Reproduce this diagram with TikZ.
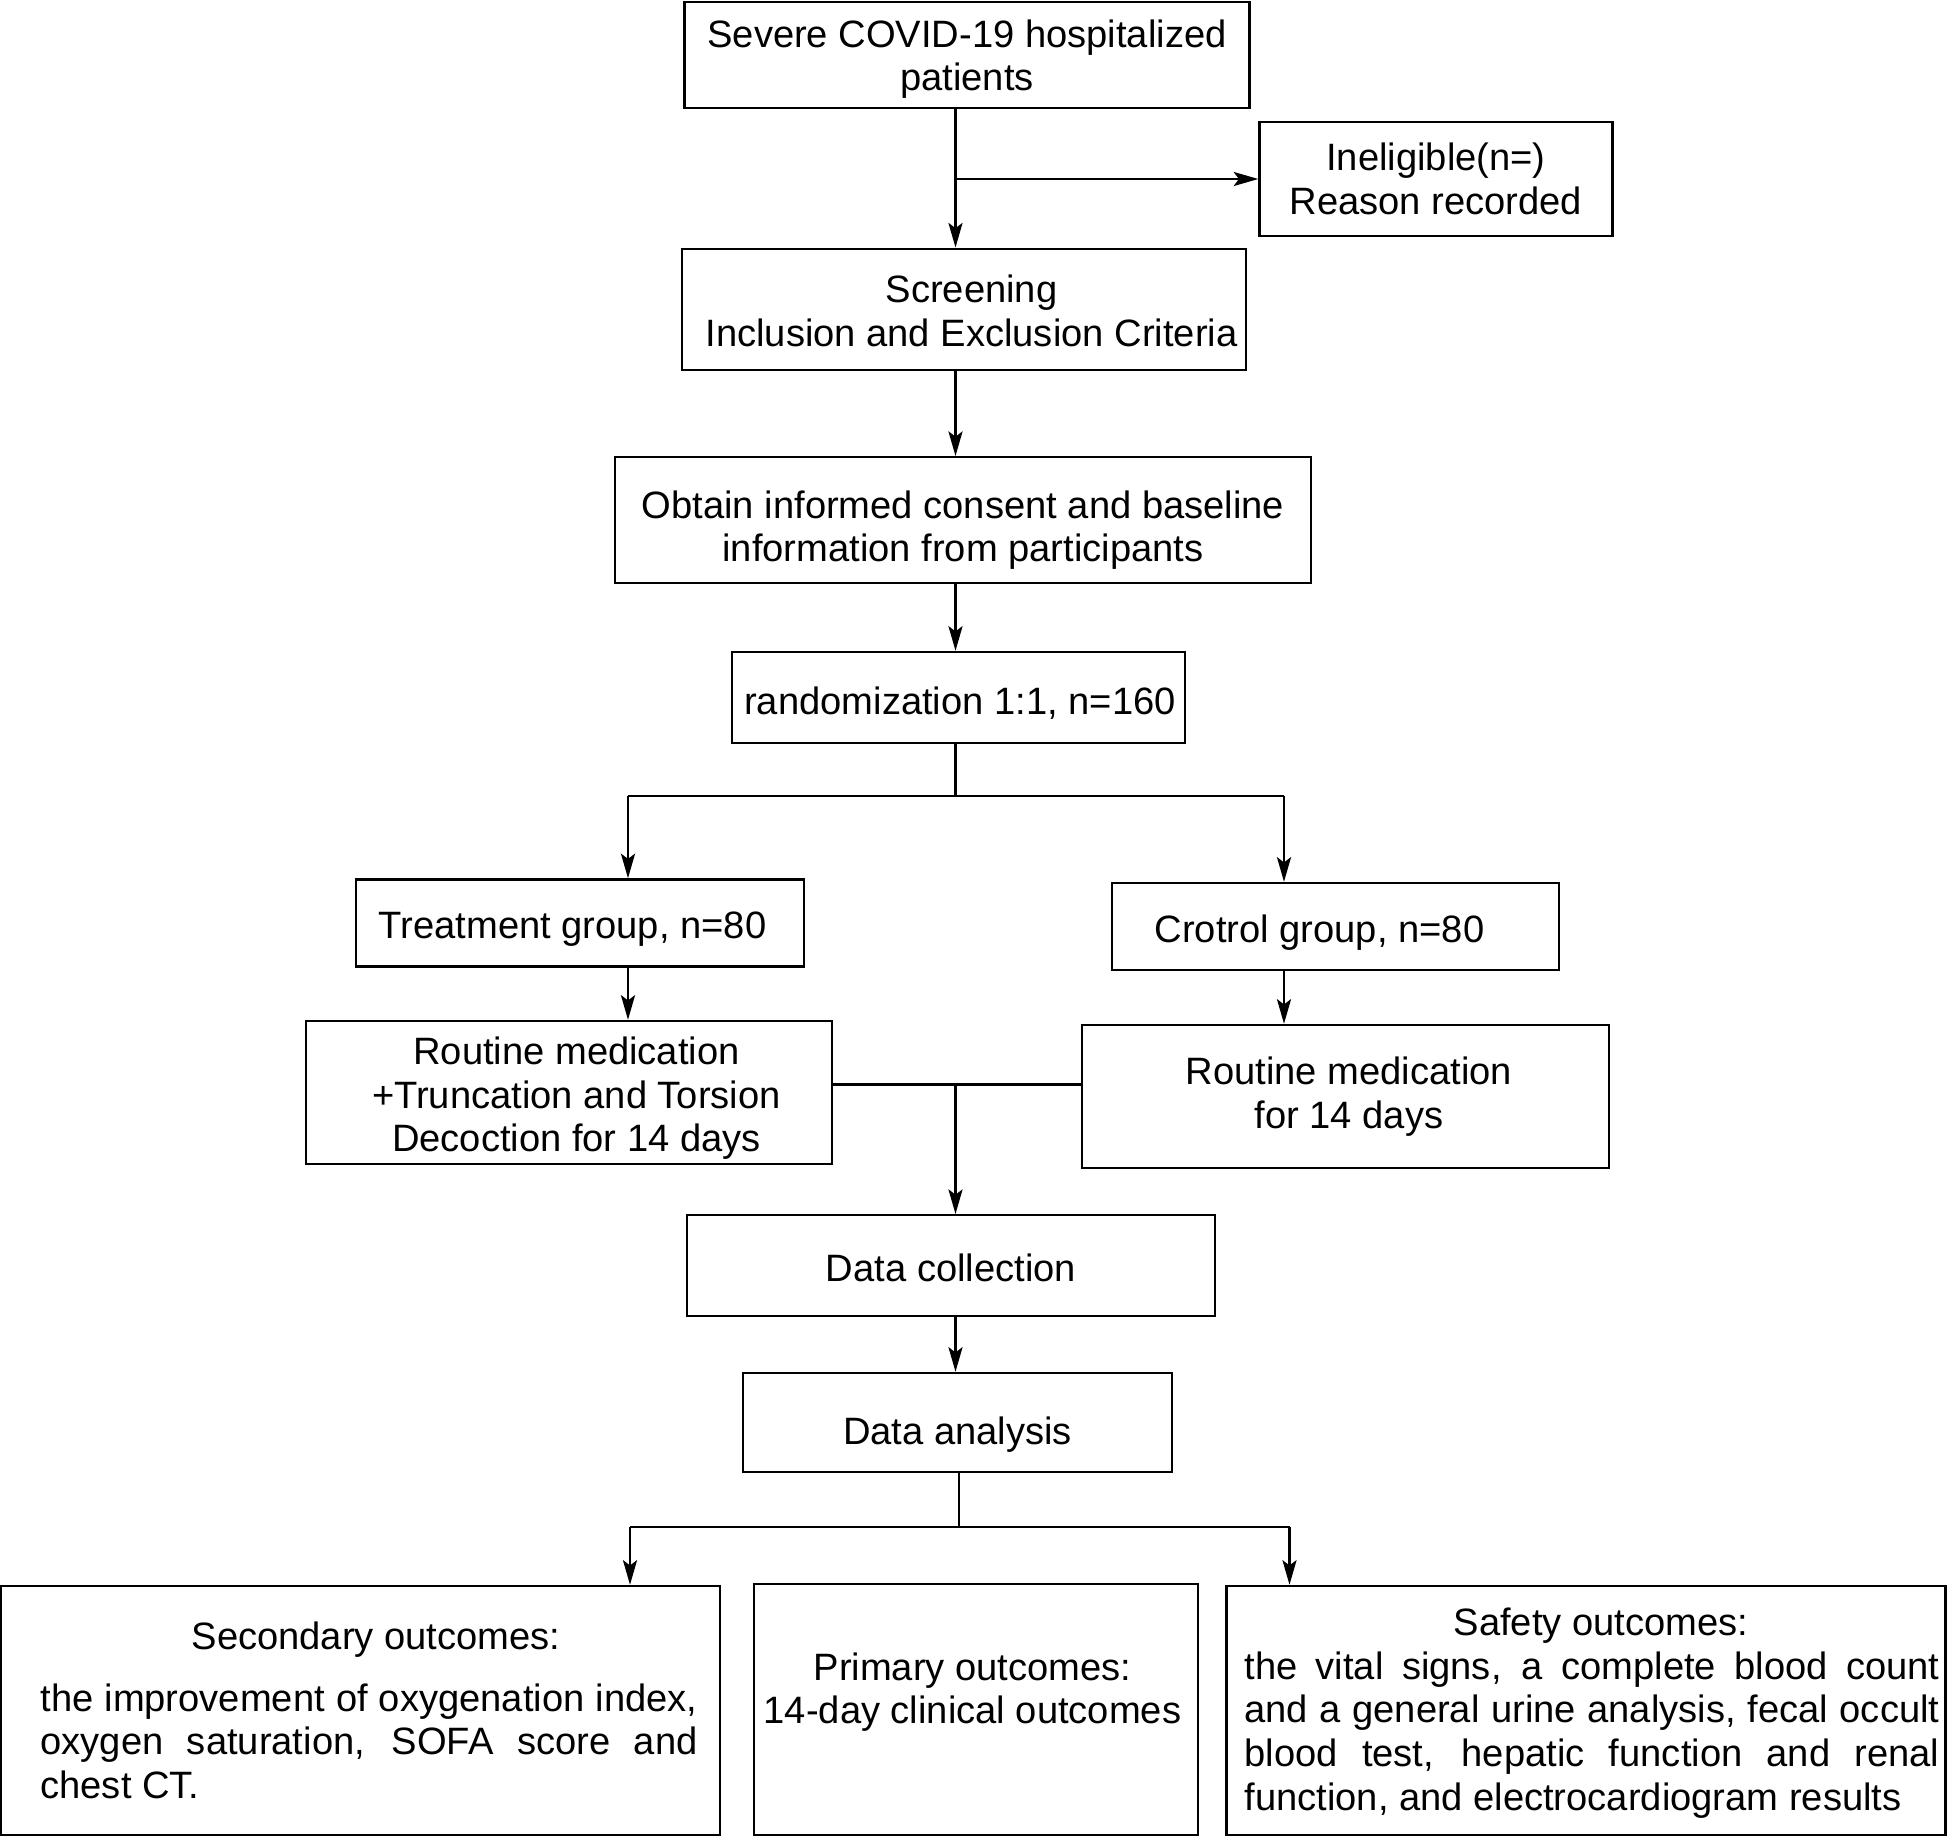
\documentclass[tikz,border=0pt]{standalone}
\usepackage{fontspec}
\setmainfont{Liberation Sans}
\usetikzlibrary{positioning}
\usetikzlibrary{arrows.meta}

\tikzset{
  flowbox/.style={draw, rectangle, line width=1.4pt, inner sep=0pt},
  boxtext/.style={align=center, inner sep=0pt},
  outtext/.style={align=justify, inner sep=0pt},
  flowline/.style={line width=1.4pt},
  flowarrow/.style={line width=1.4pt, -{Stealth[length=14pt,width=8pt,inset=3pt]}},
}

\begin{document}
\begin{tikzpicture}[font=\fontsize{21.7}{24.8}\selectfont]
            % Trial flow: screening, randomization, treatment, outcomes
            \useasboundingbox (0,0) rectangle (38.96,-36.74);
            \node[flowbox, minimum width=11.30cm, minimum height=2.12cm] (severe) at (19.34,-1.10) {};
            \node[flowbox, minimum width=7.06cm, minimum height=2.29cm] (inel) at (28.72,-3.58) {};
            \node[flowbox, minimum width=11.28cm, minimum height=2.43cm] (screen) at (19.28,-6.19) {};
            \node[flowbox, minimum width=13.91cm, minimum height=2.51cm] (consent) at (19.26,-10.40) {};
            \node[flowbox, minimum width=9.07cm, minimum height=1.82cm] (random) at (19.17,-13.95) {};
            \node[flowbox, minimum width=8.95cm, minimum height=1.74cm] (treat) at (11.60,-18.46) {};
            \node[flowbox, minimum width=8.94cm, minimum height=1.74cm] (crotrol) at (26.71,-18.53) {};
            \node[flowbox, minimum width=10.53cm, minimum height=2.86cm] (rout1) at (11.38,-21.85) {};
            \node[flowbox, minimum width=10.54cm, minimum height=2.86cm] (rout2) at (26.91,-21.93) {};
            \node[flowbox, minimum width=10.56cm, minimum height=2.01cm] (collect) at (19.02,-25.31) {};
            \node[flowbox, minimum width=8.57cm, minimum height=1.98cm] (analysis) at (19.15,-28.45) {};
            \node[flowbox, minimum width=14.38cm, minimum height=4.98cm] (second) at (7.21,-34.21) {};
            \node[flowbox, minimum width=8.87cm, minimum height=5.02cm] (primary) at (19.52,-34.19) {};
            \node[flowbox, minimum width=14.38cm, minimum height=4.98cm] (safety) at (31.72,-34.21) {};

            % texts in the boxes
            \node[boxtext, shift={(0,-0.08)}] (severe-t) at (severe) {Severe COVID-19 hospitalized\\patients};
            \node[boxtext] (inel-t) at (inel) {Ineligible(n=)\\Reason recorded};
            \node[boxtext, shift={(0.15,-0.03)}] (screen-t) at (screen) {Screening\\ Inclusion and Exclusion Criteria};
            \node[boxtext, shift={(0,-0.2)}] (consent-t) at (consent) {Obtain informed consent and baseline\\information from participants};
            \node[boxtext, shift={(0.03,-0.12)}] (random-t) at (random) {randomization 1:1, n=160};
            \node[boxtext, shift={(-0.15,-0.12)}] (treat-t) at (treat) {Treatment group, n=80};
            \node[boxtext, shift={(-0.32,-0.12)}] (crotrol-t) at (crotrol) {Crotrol group, n=80};
            \node[boxtext, shift={(0.15,-0.12)}] (rout1-t) at (rout1) {Routine medication\\+Truncation and Torsion\\Decoction for 14 days};
            \node[boxtext, shift={(0.07,0)}] (rout2-t) at (rout2) {Routine medication\\for 14 days};
            \node[boxtext, shift={(0,-0.05)}] (collect-t) at (collect) {Data collection};
            \node[boxtext, shift={(0,-0.25)}] (analysis-t) at (analysis) {Data analysis};
            \node[boxtext, shift={(-0.07,0.35)}] (primary-t) at (primary) {Primary outcomes:\\14-day clinical outcomes};
            \node[outtext, text width=13.14cm, shift={(0.17,0)}] (second-t) at (second)
              {{\centering\hspace*{0.28cm}Secondary outcomes:\par}\vspace{0.36cm}the improvement of oxygenation index,\linebreak oxygen saturation, SOFA score and\linebreak chest CT.};
            \node[outtext, text width=13.9cm, shift={(0.12,-0.05)}] (safety-t) at (safety)
              {{\centering\hspace*{0.36cm}Safety outcomes:\par}the vital signs, a complete blood count\linebreak and a general urine analysis, fecal occult\linebreak blood test, hepatic function and renal\linebreak function, and electrocardiogram results};

            % connectors
            \coordinate (trunk) at (19.11,0);
            \coordinate (splitL) at (12.56,-15.92);
            \coordinate (splitR) at (25.68,-15.92);
            \coordinate (merge) at (19.11,-21.69);
            \coordinate (outM) at (19.18,-30.54);
            \coordinate (outL) at (12.60,-30.54);
            \coordinate (outR) at (25.79,-30.54);

            \draw[flowarrow] (severe.south -| trunk) -- (screen.north -| trunk);
            \draw[flowarrow] (trunk |- inel.west) -- (inel.west);
            \draw[flowarrow] (screen.south -| trunk) -- (consent.north -| trunk);
            \draw[flowarrow] (consent.south -| trunk) -- (random.north -| trunk);
            \draw[flowline] (random.south -| trunk) -- (trunk |- splitL);
            \draw[flowline] (splitL) -- (splitR);
            \draw[flowarrow] (splitL) -- (treat.north -| splitL);
            \draw[flowarrow] (splitR) -- (crotrol.north -| splitR);
            \draw[flowarrow] (treat.south -| splitL) -- (rout1.north -| splitL);
            \draw[flowarrow] (crotrol.south -| splitR) -- (rout2.north -| splitR);
            \draw[flowline] (rout1.east |- merge) -- (rout2.west |- merge);
            \draw[flowarrow] (merge) -- (collect.north -| merge);
            \draw[flowarrow] (collect.south -| trunk) -- (analysis.north -| trunk);
            \draw[flowline] (analysis.south -| outM) -- (outM);
            \draw[flowline] (outL) -- (outR);
            \draw[flowarrow] (outL) -- (second.north -| outL);
            \draw[flowarrow] (outR) -- (safety.north -| outR);
        \end{tikzpicture}
\end{document}
